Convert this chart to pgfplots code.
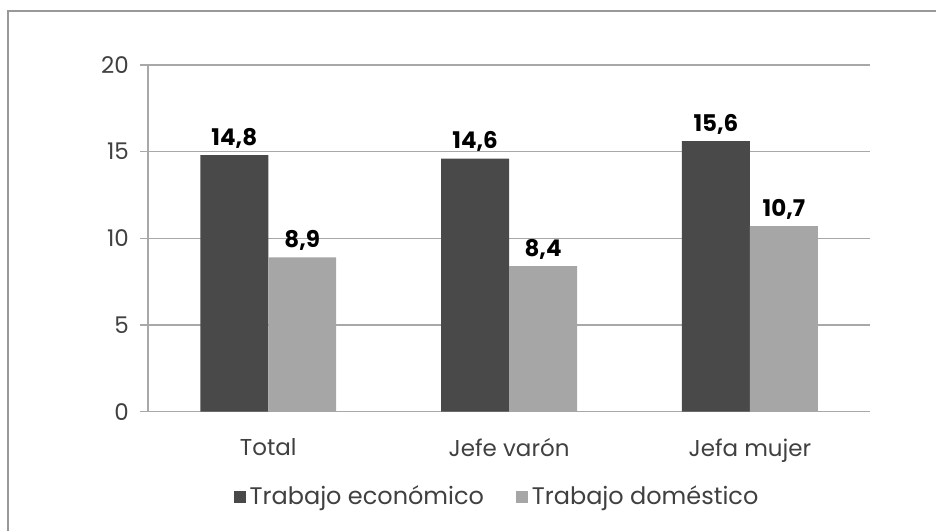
\documentclass[border=0pt]{standalone}
\usepackage{fontspec}
\setmainfont{Poppins}
\usepackage{pgfplots}
\pgfplotsset{compat=1.18}
\usetikzlibrary{calc}
\definecolor{econ}{HTML}{494949}
\definecolor{dom}{HTML}{A6A6A6}
\definecolor{gridc}{HTML}{A8A8A8}
\definecolor{txt}{HTML}{404040}

\begin{document}
\begin{tikzpicture}
\begin{axis}[
  scale only axis,
  width=361.5pt, height=173.5pt,
  ybar=0pt, bar width=34pt,
  xmin=-0.5, xmax=2.5, ymin=0, ymax=20,
  axis x line*=bottom, axis y line*=left,
  axis line style={gridc, line width=0.8pt},
  ytick={0,5,10,15,20},
  ymajorgrids, grid style={gridc, line width=0.8pt},
  xtick={0,1,2},
  xticklabels={Total, Jefe varón, Jefa mujer},
  major x tick style={draw=none},
  extra x ticks={0.5,1.5,2.5},
  extra x tick labels={},
  extra x tick style={major tick length=4pt, tick style={gridc, line width=0.8pt}, grid=none, tick align=outside},
  ytick style={gridc, line width=0.8pt},
  tick align=outside, major tick length=4pt,
  xtick pos=bottom, ytick pos=left,
  x tick label style={font=\fontsize{11.5}{12}\selectfont, text=txt, yshift=-6pt},
  y tick label style={font=\fontsize{11.5}{12}\selectfont, text=txt, xshift=-2pt},
  /pgf/number format/assume math mode=true,
  nodes near coords,
  nodes near coords style={font=\bfseries\fontsize{11.5}{12}\selectfont, text=black,
    /pgf/number format/.cd, use comma, fixed, fixed zerofill, precision=1},
  legend style={draw=none, legend columns=2, at={(rel axis cs:0.11,-0.245)}, anchor=west,
    font=\fontsize{12}{13}\selectfont, text=txt,
    /tikz/every even column/.append style={column sep=14pt}},
  legend image code/.code={\fill[#1] (0pt,-3pt) rectangle (6pt,3pt);},
]
\addplot[fill=econ, draw=none] coordinates {(0,14.8) (1,14.6) (2,15.6)};
\addplot[fill=dom, draw=none] coordinates {(0,8.9) (1,8.4) (2,10.7)};
\legend{Trabajo económico, Trabajo doméstico}
\end{axis}
\path (current axis.south west) ++(-74pt,-59.5pt) coordinate (bl);
\path (bl) rectangle ++(468.5pt,265.5pt);
\draw[gray!80, line width=0.7pt] ($(bl)+(4pt,0)$) -- ($(bl)+(4pt,260pt)$) -- ($(bl)+(468.5pt,260pt)$);
\end{tikzpicture}
\end{document}
